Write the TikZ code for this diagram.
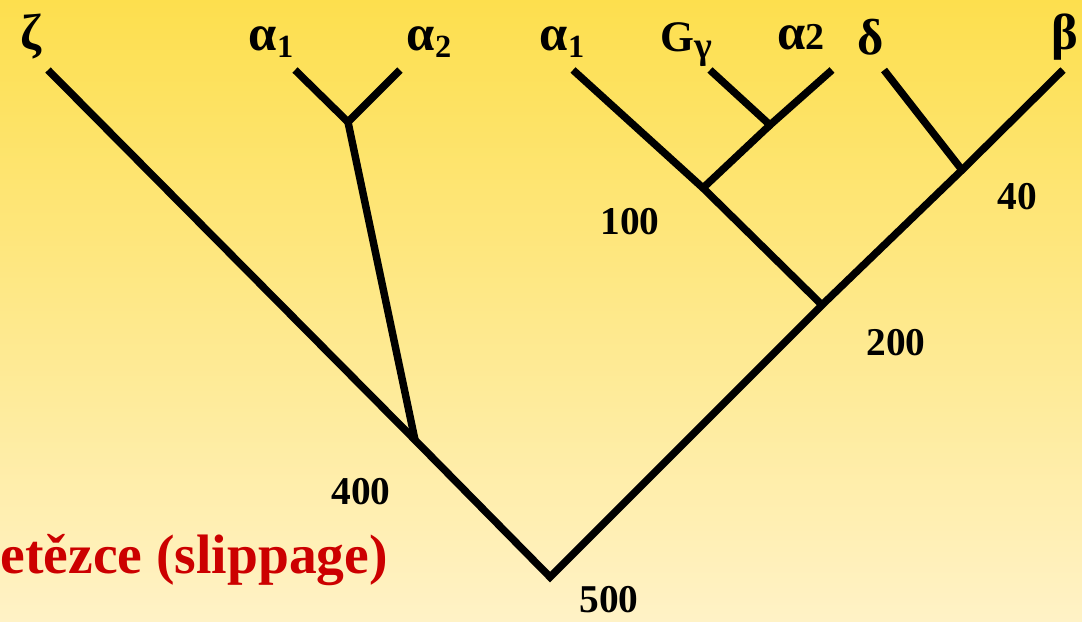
\documentclass[tikz,border=0pt]{standalone}
\usepackage{fontspec}
\setmainfont{Liberation Serif}
\usepackage{tikz}
\usetikzlibrary{positioning}
\definecolor{bgtop}{HTML}{FDDF4E}
\definecolor{bgbot}{HTML}{FFF2C6}
\definecolor{slipred}{HTML}{CC0000}
\newcommand{\gk}[1]{{\fontsize{36}{38}\selectfont #1}}
\newcommand{\lsub}[2][23]{\raisebox{-0.4ex}{\fontsize{#1}{#1}\selectfont #2}}

\tikzset{
  branch/.style={line width=5.3pt, line cap=butt, line join=miter},
  leaflab/.style={font=\fontsize{27}{29}\selectfont\bfseries, inner sep=0pt},
  agelab/.style={font=\fontsize{28}{30}\selectfont\bfseries, inner sep=0pt}
}

\begin{document}
\begin{tikzpicture}[x=0.025cm,y=-0.025cm]
\useasboundingbox (0,0) rectangle (1082,621);
\shade[top color=bgtop, bottom color=bgbot] (0,0) rectangle (1082,621);

% junctions
\coordinate (root) at (550,577);
\coordinate (n400) at (415,440);
\coordinate (n200) at (822,305);
\coordinate (n100) at (703,188);
\coordinate (n40) at (962,170);
\coordinate (nA) at (348,122);
\coordinate (nG) at (770,125);

% leaf ends
\coordinate (tzeta) at (48,70);
\coordinate (tal1) at (295,70);
\coordinate (tal2) at (400,70);
\coordinate (tbl1) at (573,70);
\coordinate (tgg) at (710,70);
\coordinate (tbl2) at (832,70);
\coordinate (tdelta) at (884,70);
\coordinate (tbeta) at (1063,70);

% branches
\draw[branch] (tzeta) -- (n400) -- (root) -- (n200) -- (n40) -- (tbeta);
\draw[branch] (tal1) -- (nA) -- (tal2);
\draw[branch] (nA) -- (n400);
\draw[branch] (n200) -- (n100) -- (tbl1);
\draw[branch] (tgg) -- (nG) -- (tbl2);
\draw[branch] (nG) -- (n100);
\draw[branch] (tdelta) -- (n40);

% leaf labels
\node[leaflab] (zeta) at (31,37) {\gk{ζ}};
\node[leaflab] (al1) at (271,42) {\gk{α}\lsub{1}};
\node[leaflab] (al2) at (429,42) {\gk{α}\lsub{2}};
\node[leaflab] (bl1) at (562,42) {\gk{α}\lsub{1}};
\node[leaflab] (gg) at (686,45) {{\fontsize{31}{33}\selectfont G}\lsub[27]{γ}};
\node[leaflab] (bl2) at (801,37) {\gk{α}2};
\node[leaflab] (delta) at (871,37) {\gk{δ}};
\node[leaflab] (beta) at (1065,37) {\gk{β}};

% ages
\node[agelab] (a100) at (630,222) {100};
\node[agelab] (a40) at (1017,197) {40};
\node[agelab] (a200) at (896,343) {200};
\node[agelab] (a400) at (361,492) {400};
\node[agelab] (a500) at (609,600) {500};

\node[anchor=base east, inner sep=0pt, text=slipred, font=\fontsize{39.5}{42}\selectfont\bfseries] (slip) at (388,573) {etězce (slippage)};
\end{tikzpicture}
\end{document}
